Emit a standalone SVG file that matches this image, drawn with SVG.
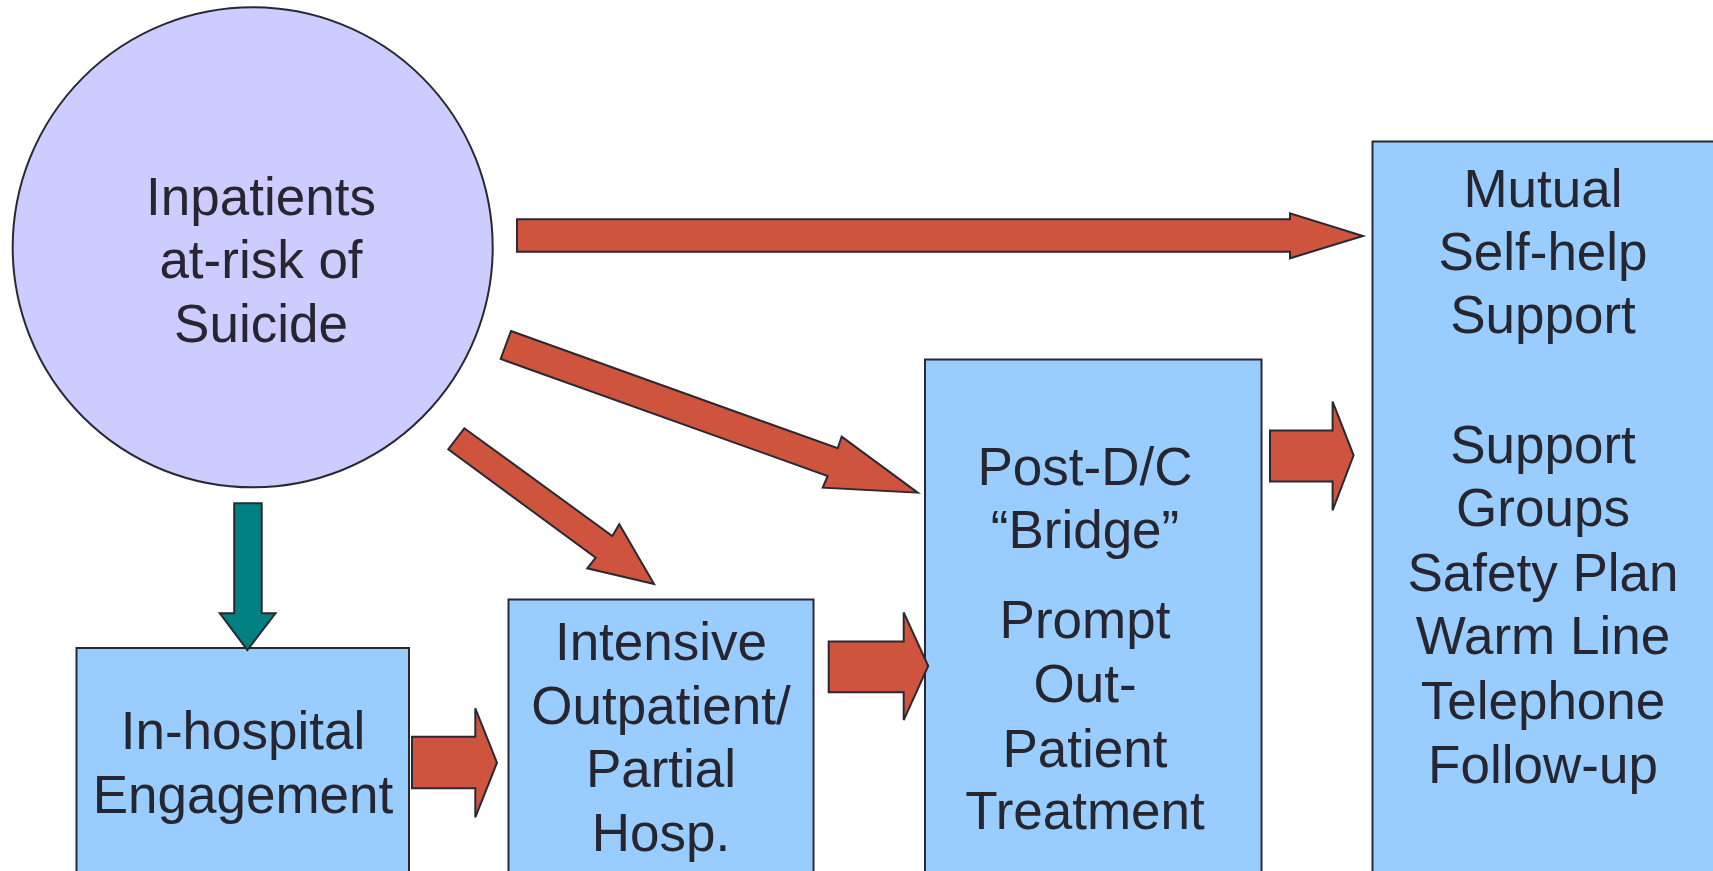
<svg xmlns="http://www.w3.org/2000/svg" width="1713" height="871" viewBox="0 0 1713 871">
<style>
.node{stroke:#2a2933;stroke-width:2}
.circ{fill:#ccccff}
.box{fill:#99ccff}
.arr{fill:#cf543d;stroke:#2a2933;stroke-width:2;stroke-linejoin:miter}
.teal{fill:#008080;stroke:#2a2933;stroke-width:2}
text{font-family:"Liberation Sans",Arial,sans-serif;font-size:53px;fill:#27252f;text-anchor:middle}
</style>
<rect width="1713" height="871" fill="#ffffff"/>
<g id="inpatients">
<circle class="node circ" cx="252.7" cy="247.3" r="240"/>
<text x="261" y="215">Inpatients</text>
<text x="261" y="278">at-risk of</text>
<text x="261" y="342">Suicide</text>
</g>
<g id="inhospital">
<rect class="node box" x="76.5" y="648" width="332.5" height="240"/>
<text x="243" y="749">In-hospital</text>
<text x="243" y="813">Engagement</text>
</g>
<g id="intensive">
<rect class="node box" x="508.5" y="599.5" width="305" height="290"/>
<text x="661" y="660">Intensive</text>
<text x="661" y="723.5">Outpatient/</text>
<text x="661" y="787">Partial</text>
<text x="661" y="850.5">Hosp.</text>
</g>
<g id="postdc">
<rect class="node box" x="925" y="359.5" width="336.5" height="530"/>
<text x="1085" y="485">Post-D/C</text>
<text x="1085" y="547.5">“Bridge”</text>
<text x="1085" y="637.5">Prompt</text>
<text x="1085" y="702">Out-</text>
<text x="1085" y="766.5">Patient</text>
<text x="1085" y="829">Treatment</text>
</g>
<g id="mutual">
<rect class="node box" x="1372.5" y="141.5" width="360" height="750"/>
<text x="1543" y="207">Mutual</text>
<text x="1543" y="270">Self-help</text>
<text x="1543" y="333">Support</text>
<text x="1543" y="462.5">Support</text>
<text x="1543" y="526">Groups</text>
<text x="1543" y="590.5">Safety Plan</text>
<text x="1543" y="654">Warm Line</text>
<text x="1543" y="718.5">Telephone</text>
<text x="1543" y="782.5">Follow-up</text>
</g>
<g id="connectors">
<polygon class="arr" points="517,219.3 1290,219.3 1290,213.3 1363,236 1290,258.3 1290,251.7 517,251.7"/>
<polygon class="arr" points="511,331 837.7,448.3 841.7,436.7 917.7,492.7 822.7,487.7 827.7,476 500.7,359"/>
<polygon class="arr" points="464.3,428.3 612.3,536 619.3,524.3 654,584 587.3,568.3 595.7,557.7 448.3,449.3"/>
<polygon class="teal" points="234.2,503.3 261.7,503.3 261.7,613.3 275.5,613.3 247.4,650 219.8,613.3 234.2,613.3"/>
<polygon class="arr" points="412,736.7 475.3,736.7 475.3,708.3 497,762.7 475.3,817.3 475.3,788.3 412,788.3"/>
<polygon class="arr" points="828.7,641.5 903.7,641.5 903.7,612.4 928.2,666 903.7,720.1 903.7,692.3 828.7,692.3"/>
<polygon class="arr" points="1270,430.4 1332.6,430.4 1332.6,401.6 1353.6,455.3 1332.6,510.3 1332.6,481.6 1270,481.6"/>
</g>
</svg>
